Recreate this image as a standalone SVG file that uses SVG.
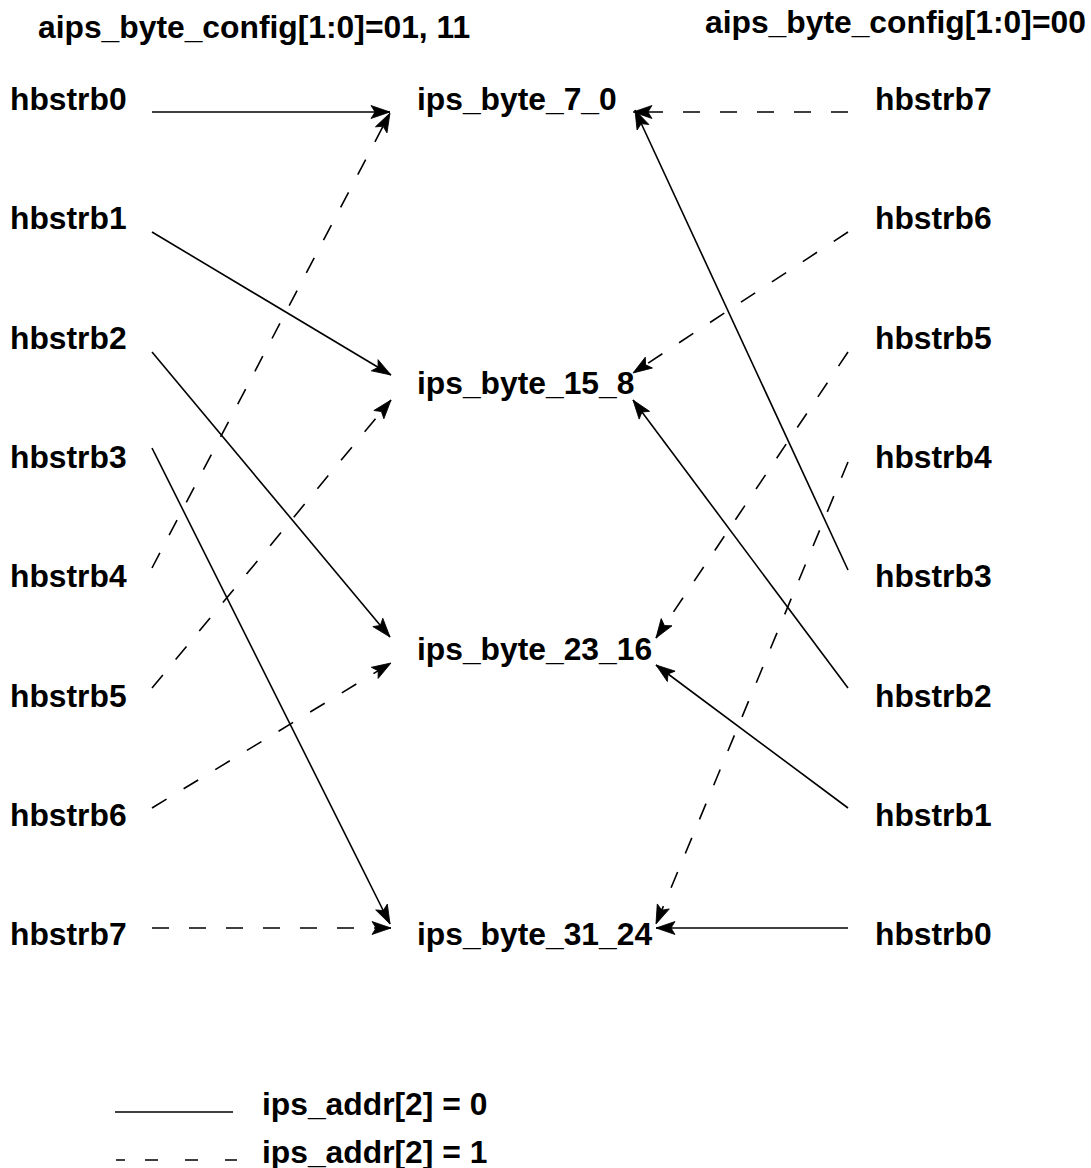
<svg xmlns="http://www.w3.org/2000/svg" width="1091" height="1168" viewBox="0 0 1091 1168">
<style>
text{font-family:"Liberation Sans",Arial,Helvetica,sans-serif;font-weight:bold;font-size:31.8px;fill:#000}
.s{stroke:#000;stroke-width:1.6;fill:none;marker-end:url(#ah)}
.d{stroke:#000;stroke-width:1.6;fill:none;stroke-dasharray:17 20;marker-end:url(#ah)}
.ls{stroke:#000;stroke-width:1.6;fill:none}
.ld{stroke:#000;stroke-width:1.6;fill:none;stroke-dasharray:9 20 13 27 13 27 12 10}
</style>
<defs>
<marker id="ah" markerUnits="userSpaceOnUse" viewBox="-21 -8 22 16" markerWidth="22" markerHeight="16" refX="0" refY="0" orient="auto">
<path d="M0,0 L-19,-6.5 L-15,0 L-19,6.5 Z" fill="#000" stroke="#000" stroke-width="0.8" stroke-linejoin="miter"/>
</marker>
</defs>
<rect width="1091" height="1168" fill="#fff"/>
<g id="titles">
<text x="38" y="38">aips_byte_config[1:0]=01, 11</text>
<text x="705" y="33">aips_byte_config[1:0]=00</text>
</g>
<g id="left_hbstrb0"><text x="10" y="110">hbstrb0</text></g>
<g id="left_hbstrb1"><text x="10" y="229">hbstrb1</text></g>
<g id="left_hbstrb2"><text x="10" y="349">hbstrb2</text></g>
<g id="left_hbstrb3"><text x="10" y="468">hbstrb3</text></g>
<g id="left_hbstrb4"><text x="10" y="587">hbstrb4</text></g>
<g id="left_hbstrb5"><text x="10" y="707">hbstrb5</text></g>
<g id="left_hbstrb6"><text x="10" y="826">hbstrb6</text></g>
<g id="left_hbstrb7"><text x="10" y="945">hbstrb7</text></g>
<g id="ips_byte_7_0"><text x="417" y="110">ips_byte_7_0</text></g>
<g id="ips_byte_15_8"><text x="417" y="394">ips_byte_15_8</text></g>
<g id="ips_byte_23_16"><text x="417" y="660">ips_byte_23_16</text></g>
<g id="ips_byte_31_24"><text x="417" y="945">ips_byte_31_24</text></g>
<g id="right_hbstrb7"><text x="875" y="110">hbstrb7</text></g>
<g id="right_hbstrb6"><text x="875" y="229">hbstrb6</text></g>
<g id="right_hbstrb5"><text x="875" y="349">hbstrb5</text></g>
<g id="right_hbstrb4"><text x="875" y="468">hbstrb4</text></g>
<g id="right_hbstrb3"><text x="875" y="587">hbstrb3</text></g>
<g id="right_hbstrb2"><text x="875" y="707">hbstrb2</text></g>
<g id="right_hbstrb1"><text x="875" y="826">hbstrb1</text></g>
<g id="right_hbstrb0"><text x="875" y="945">hbstrb0</text></g>
<g id="connectors">
<line class="s" x1="152" y1="112" x2="390" y2="112"/>
<line class="s" x1="152" y1="232" x2="391" y2="375"/>
<line class="s" x1="152" y1="352" x2="390" y2="637"/>
<line class="s" x1="152" y1="448" x2="390" y2="924"/>
<line class="d" x1="152" y1="568" x2="390" y2="113"/>
<line class="d" x1="152" y1="688" x2="391" y2="400"/>
<line class="d" x1="152" y1="808" x2="391" y2="663"/>
<line class="d" x1="152" y1="928" x2="391" y2="928"/>
<line class="d" x1="848" y1="112" x2="633" y2="112"/>
<line class="s" x1="848" y1="570" x2="635" y2="110"/>
<line class="d" x1="848" y1="232" x2="633" y2="373"/>
<line class="s" x1="848" y1="688" x2="633" y2="400"/>
<line class="d" x1="848" y1="352" x2="656" y2="638"/>
<line class="s" x1="848" y1="808" x2="656" y2="665"/>
<line class="d" x1="848" y1="462" x2="656" y2="924"/>
<line class="s" x1="848" y1="928" x2="656" y2="928"/>
</g>
<g id="legend">
<line class="ls" x1="115" y1="1112" x2="233" y2="1112"/>
<text x="262" y="1115">ips_addr[2] = 0</text>
<line class="ld" x1="116" y1="1160" x2="237" y2="1160"/>
<text x="262" y="1163">ips_addr[2] = 1</text>
</g>
</svg>
